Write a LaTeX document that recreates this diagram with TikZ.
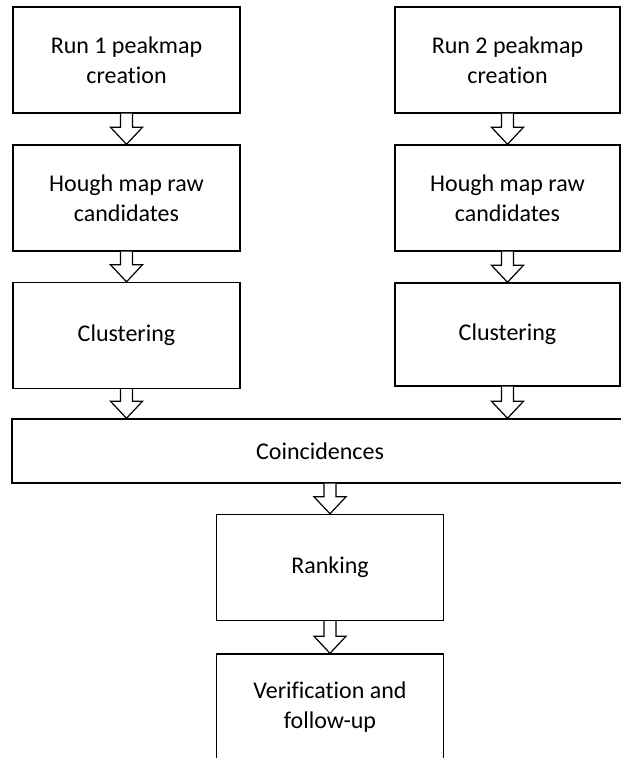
\documentclass[tikz,border=0pt]{standalone}
\usepackage{fontspec}
\setmainfont{Carlito}[Ligatures=NoCommon]
\usetikzlibrary{calc}

% Hollow block arrow running straight down from #1 to #2
\newcommand\flowarrow[2]{%
  \draw[flowarrowline] let \p1=(#1), \p2=(#2) in
    ({\x1-4.5pt},{\y1}) -- ({\x1-4.5pt},{\y2+12.75pt}) -- ({\x1-12pt},{\y2+12.75pt})
    -- ({\x1},{\y2}) -- ({\x1+12pt},{\y2+12.75pt}) -- ({\x1+4.5pt},{\y2+12.75pt})
    -- ({\x1+4.5pt},{\y1});
}

\begin{document}
\begin{tikzpicture}[x=0.75pt,y=-0.75pt,
  stagebox/.style={draw=black, line width=1.1pt, fill=white, rectangle,
    minimum width=170pt, minimum height=79.5pt, inner sep=0pt,
    align=center, font=\fontsize{18}{22.5}\selectfont},
  flowarrowline/.style={draw=black, line width=0.9pt, fill=white, line join=miter}]
  \useasboundingbox (0,0) rectangle (621,758);

  % First run
  \node[stagebox] (run1)  at (126.5,60)    {Run 1 peakmap\\creation};
  \node[stagebox] (hough1) at (126.5,198)  {Hough map raw\\candidates};
  \node[stagebox] (clus1) at (126.5,335.5) {Clustering};

  % Second run
  \node[stagebox, minimum width=168.75pt] (run2)   at (507.5,60)  {Run 2 peakmap\\creation};
  \node[stagebox, minimum width=168.75pt] (hough2) at (507.5,198) {Hough map raw\\candidates};
  \node[stagebox, minimum width=168.75pt, minimum height=77.25pt] (clus2) at (507.5,334.5) {Clustering};

  % Common stages
  \node[stagebox, minimum width=462pt, minimum height=48pt] (coin) at (320,451) {Coincidences};
  \node[stagebox] (rank)  at (330,567.5) {Ranking};
  \node[stagebox] (verif) at (330,707)   {Verification and\\follow-up};

  % Arrows
  \flowarrow{run1.south}{hough1.north}
  \flowarrow{hough1.south}{clus1.north}
  \flowarrow{run2.south}{hough2.north}
  \flowarrow{hough2.south}{clus2.north}
  \flowarrow{clus1.south}{clus1.south |- coin.north}
  \flowarrow{clus2.south}{clus2.south |- coin.north}
  \flowarrow{rank.north |- coin.south}{rank.north}
  \flowarrow{rank.south}{verif.north}
\end{tikzpicture}
\end{document}
